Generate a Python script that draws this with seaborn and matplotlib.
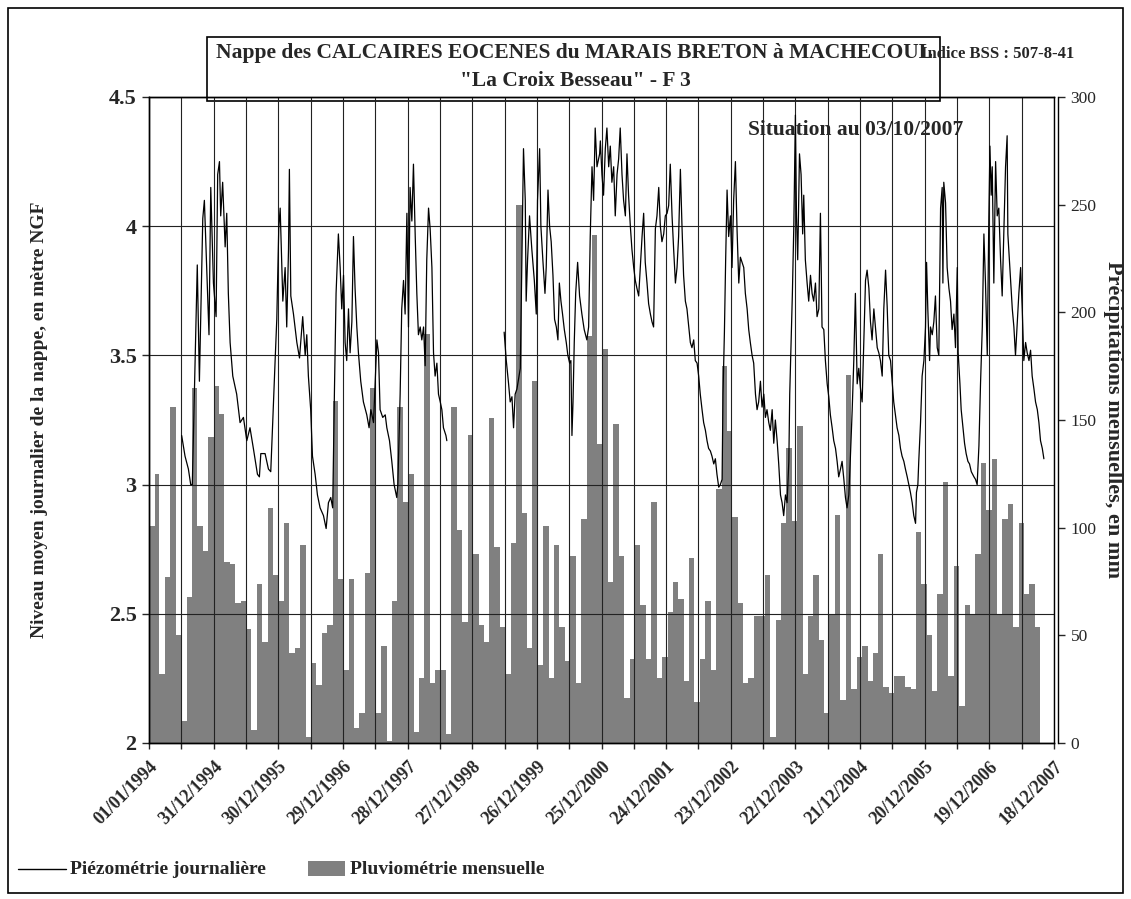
import numpy as np
import pandas as pd
import matplotlib
matplotlib.use("Agg")
import matplotlib.pyplot as plt
import matplotlib.dates as mdates
import matplotlib.transforms as mtransforms
from matplotlib.lines import Line2D
from matplotlib.patches import Rectangle
import seaborn as sns

W, H = 1131, 899
START = pd.Timestamp("1994-01-01")

# pluviométrie mensuelle (mm), janvier 1994 -> septembre 2007
RAIN_MM = [
    101, 125, 32, 77, 156, 50, 10, 68, 165, 101, 89, 142,   # 1994
    166, 153, 84, 83, 65, 66, 53, 6, 74, 47, 109, 78,       # 1995
    66, 102, 42, 44, 92, 3, 37, 27, 51, 55, 159, 76,        # 1996
    34, 76, 7, 14, 79, 165, 14, 45, 1, 66, 156, 112,        # 1997
    125, 5, 30, 190, 28, 34, 34, 4, 156, 99, 56, 143,       # 1998
    88, 55, 47, 151, 91, 54, 32, 93, 250, 107, 44, 168,     # 1999
    36, 101, 30, 92, 54, 38, 87, 28, 104, 189, 236, 139,    # 2000
    183, 75, 148, 87, 21, 39, 92, 64, 39, 112, 30, 40,      # 2001
    61, 75, 67, 29, 86, 19, 39, 66, 34, 118, 175, 145,      # 2002
    105, 65, 28, 30, 59, 59, 78, 3, 57, 102, 137, 103,      # 2003
    147, 32, 59, 78, 48, 14, 60, 106, 20, 171, 25, 40,      # 2004
    45, 29, 42, 88, 26, 23, 31, 31, 26, 25, 98, 74,         # 2005
    50, 24, 69, 121, 31, 82, 17, 64, 60, 88, 130, 108,      # 2006
    132, 60, 104, 111, 54, 102, 69, 74, 54,                 # 2007
]

# piézométrie : jours depuis le 01/01/1994 et niveau (m NGF)
PIEZO_DAYS = [
    184, 203, 222, 235, 244, 272, 284, 303, 312, 338,
    348, 363, 378, 387, 397, 404, 415, 429, 438, 447,
    457, 472, 494, 513, 532, 551, 569, 588, 611, 622,
    630, 654, 673, 686, 697, 710, 720, 731, 739, 754,
    767, 776, 786, 791, 799, 814, 833, 848, 866, 880,
    889, 898, 911, 921, 936, 949, 964, 983, 998, 1011,
    1024, 1035, 1045, 1054, 1067, 1077, 1086, 1096, 1105, 1114,
    1124, 1133, 1143, 1152, 1161, 1171, 1180, 1193, 1208, 1227,
    1240, 1250, 1265, 1274, 1284, 1293, 1302, 1317, 1331, 1340,
    1355, 1368, 1381, 1396, 1402, 1415, 1424, 1434, 1443, 1453,
    1462, 1471, 1481, 1490, 1500, 1509, 1518, 1528, 1537, 1547,
    1556, 1565, 1575, 1584, 1594, 1603, 1612, 1622, 1631, 1641,
    1650, 1659, 1673, 1678,
    2001, 2013, 2026, 2035, 2045, 2054, 2063, 2073, 2092, 2110,
    2120, 2125, 2133, 2144, 2157, 2171, 2182, 2189, 2201, 2208,
    2219, 2231, 2238, 2248, 2257, 2266, 2276, 2285, 2295, 2304,
    2312, 2321, 2330, 2340, 2351, 2360, 2370, 2377, 2383, 2389,
    2396, 2404, 2415, 2426, 2439, 2452, 2467, 2477, 2486, 2496,
    2505, 2514, 2524, 2539, 2543, 2552, 2561, 2571, 2580, 2590,
    2599, 2608, 2618, 2627, 2637, 2646, 2655, 2665, 2674, 2684,
    2693, 2702, 2712, 2721, 2731, 2740, 2749, 2759, 2768, 2778,
    2787, 2796, 2806, 2815, 2825, 2834, 2843, 2853, 2862, 2872,
    2881, 2890, 2900, 2909, 2919, 2928, 2937, 2947, 2956, 2966,
    2975, 2984, 2994, 3003, 3012, 3022, 3031, 3041, 3050, 3059,
    3069, 3078, 3088, 3097, 3106, 3116, 3125, 3135, 3144, 3153,
    3163, 3172, 3182, 3191, 3200, 3210, 3219, 3229, 3234, 3242,
    3249, 3257, 3266, 3276, 3285, 3294, 3304, 3313, 3323, 3332,
    3351, 3360, 3370, 3379, 3388, 3398, 3407, 3417, 3426, 3435,
    3445, 3454, 3464, 3473, 3482, 3492, 3501, 3511, 3520, 3529,
    3539, 3548, 3558, 3567, 3576, 3586, 3595, 3605, 3610, 3618,
    3625, 3633, 3642, 3648, 3655, 3665, 3674, 3683, 3689, 3698,
    3708, 3717, 3727, 3736, 3745, 3755, 3764, 3774, 3783, 3792,
    3802, 3811, 3821, 3830, 3839, 3849, 3858, 3868, 3877, 3886,
    3896, 3905, 3915, 3924, 3933, 3943, 3952, 3962, 3971, 3980,
    3990, 3999, 4009, 4018, 4027, 4037, 4046, 4056, 4065, 4074,
    4084, 4093, 4103, 4112, 4121, 4131, 4140, 4150, 4159, 4168,
    4178, 4196, 4215, 4225, 4234, 4243, 4253, 4262, 4272, 4281,
    4290, 4300, 4309, 4319, 4324, 4332, 4337, 4347, 4356, 4366,
    4375, 4381, 4388, 4398, 4403, 4413, 4422, 4431, 4441, 4450,
    4460, 4469, 4473, 4478, 4488, 4497, 4507, 4516, 4525, 4535,
    4544, 4554, 4559, 4569, 4576, 4586, 4595, 4604, 4614, 4623,
    4633, 4648, 4657, 4666, 4676, 4685, 4695, 4704, 4713, 4723,
    4732, 4738, 4745, 4751, 4760, 4770, 4779, 4788, 4798, 4807,
    4817, 4826, 4835, 4839, 4850, 4864, 4873, 4882, 4892, 4901,
    4911, 4920, 4929, 4939, 4948, 4958, 4967, 4976, 4986, 4995,
    5005, 5014, 5023, 5033, 5042,
]
PIEZO_LEVEL = [
    3.19, 3.11, 3.06, 3.00, 3.00, 3.85, 3.40, 4.03, 4.10, 3.58,
    4.15, 3.78, 3.65, 4.20, 4.25, 4.04, 4.17, 3.92, 4.05, 3.74,
    3.55, 3.42, 3.35, 3.24, 3.26, 3.17, 3.22, 3.14, 3.04, 3.03,
    3.12, 3.12, 3.06, 3.05, 3.24, 3.47, 3.64, 3.99, 4.07, 3.71,
    3.84, 3.61, 3.91, 4.22, 3.73, 3.66, 3.55, 3.49, 3.65, 3.50,
    3.58, 3.42, 3.29, 3.11, 3.04, 2.96, 2.91, 2.88, 2.83, 2.93,
    2.95, 2.91, 3.37, 3.74, 3.97, 3.84, 3.68, 3.81, 3.55, 3.48,
    3.68, 3.51, 3.63, 3.96, 3.76, 3.61, 3.51, 3.40, 3.32, 3.27,
    3.22, 3.29, 3.24, 3.39, 3.56, 3.51, 3.29, 3.26, 3.27, 3.22,
    3.17, 3.09, 3.00, 2.95, 3.00, 3.35, 3.68, 3.79, 3.66, 4.05,
    3.61, 4.15, 4.02, 4.24, 3.96, 3.74, 3.58, 3.61, 3.56, 3.61,
    3.46, 3.87, 4.07, 3.99, 3.84, 3.51, 3.42, 3.47, 3.35, 3.32,
    3.29, 3.22, 3.19, 3.17,
    3.59, 3.48, 3.39, 3.32, 3.34, 3.22, 3.35, 3.37, 3.45, 4.30,
    4.10, 3.71, 3.87, 4.04, 3.91, 3.79, 3.66, 4.10, 4.30, 4.00,
    3.87, 3.74, 3.84, 4.14, 4.00, 3.94, 3.81, 3.64, 3.61, 3.56,
    3.78, 3.71, 3.66, 3.60, 3.55, 3.50, 3.47, 3.48, 3.19, 3.32,
    3.55, 3.74, 3.86, 3.73, 3.66, 3.60, 3.56, 3.61, 3.96, 4.23,
    4.10, 4.38, 4.23, 4.28, 4.33, 4.20, 4.12, 4.30, 4.38, 4.23,
    4.31, 4.17, 4.23, 4.04, 4.20, 4.26, 4.38, 4.20, 4.10, 4.04,
    4.28, 4.12, 4.00, 3.91, 3.84, 3.79, 3.76, 3.73, 3.84, 3.96,
    4.05, 3.86, 3.78, 3.70, 3.66, 3.63, 3.61, 3.99, 4.04, 4.15,
    4.00, 3.94, 3.97, 4.04, 4.05, 4.08, 4.24, 4.04, 3.91, 3.78,
    3.84, 3.96, 4.22, 4.00, 3.81, 3.71, 3.68, 3.61, 3.55, 3.53,
    3.56, 3.48, 3.47, 3.42, 3.35, 3.29, 3.24, 3.21, 3.17, 3.14,
    3.13, 3.11, 3.08, 3.10, 3.04, 2.99, 3.00, 3.02, 3.35, 3.59,
    3.87, 4.14, 3.96, 4.04, 3.84, 4.10, 4.25, 3.99, 3.78, 3.88,
    3.84, 3.74, 3.68, 3.60, 3.55, 3.50, 3.47, 3.35, 3.29, 3.32,
    3.40, 3.30, 3.35, 3.26, 3.29, 3.24, 3.21, 3.29, 3.16, 3.25,
    3.17, 3.08, 2.96, 2.93, 2.88, 2.96, 2.93, 3.09, 3.35, 3.55,
    3.74, 4.00, 4.43, 4.04, 3.87, 4.28, 4.20, 3.97, 4.12, 3.87,
    3.78, 3.71, 3.81, 3.74, 3.71, 3.78, 3.65, 3.68, 4.05, 3.61,
    3.60, 3.48, 3.39, 3.34, 3.27, 3.22, 3.17, 3.14, 3.09, 3.03,
    3.06, 3.09, 3.02, 2.95, 2.91, 2.96, 3.11, 3.29, 3.48, 3.74,
    3.39, 3.45, 3.37, 3.32, 3.55, 3.79, 3.83, 3.76, 3.63, 3.56,
    3.68, 3.61, 3.53, 3.51, 3.48, 3.42, 3.68, 3.83, 3.69, 3.50,
    3.48, 3.32, 3.22, 3.19, 3.14, 3.11, 3.09, 3.06, 3.03, 3.00,
    2.97, 2.93, 2.88, 2.85, 2.97, 3.00, 3.09, 3.24, 3.42, 3.48,
    3.61, 3.86, 3.68, 3.48, 3.61, 3.58, 3.63, 3.73, 3.53, 3.50,
    4.07, 4.15, 3.78, 4.17, 4.09, 3.84, 3.76, 3.71, 3.60, 3.66,
    3.53, 3.84, 3.51, 3.39, 3.29, 3.22, 3.16, 3.12, 3.09, 3.08,
    3.05, 3.03, 3.02, 3.00, 3.15, 3.39, 3.61, 3.97, 3.78, 3.50,
    4.04, 4.31, 4.12, 4.23, 3.78, 4.25, 4.04, 4.07, 3.87, 3.73,
    3.99, 4.23, 4.35, 3.97, 3.84, 3.68, 3.61, 3.50, 3.63, 3.74,
    3.84, 3.68, 3.48, 3.55, 3.51, 3.48, 3.52, 3.42, 3.37, 3.32,
    3.29, 3.24, 3.17, 3.14, 3.10,
]

TICK_LABELS = [
    "01/01/1994", "31/12/1994", "30/12/1995", "29/12/1996", "28/12/1997",
    "27/12/1998", "26/12/1999", "25/12/2000", "24/12/2001", "23/12/2002",
    "22/12/2003", "21/12/2004", "20/12/2005", "19/12/2006", "18/12/2007",
]
LEVEL_TICKS = [2, 2.5, 3, 3.5, 4, 4.5]
RAIN_TICKS = [0, 50, 100, 150, 200, 250, 300]

TITLE = "Nappe des CALCAIRES EOCENES du MARAIS BRETON à MACHECOUL"
SUBTITLE = '"La Croix Besseau" - F 3'
BSS = "Indice BSS : 507-8-41"
SITUATION = "Situation au 03/10/2007"
YLABEL_LEFT = "Niveau moyen journalier de la nappe, en mètre NGF"
YLABEL_RIGHT = "Précipitations mensuelles, en mm"
LEG_LINE = "Piézométrie journalière"
LEG_BAR = "Pluviométrie mensuelle"

sns.set_style("white")
plt.rcParams["font.family"] = ["Liberation Serif", "DejaVu Serif"]


def fx(px):
    return px / W


def fy(py):
    return 1 - py / H


# données
months = pd.date_range(START, periods=len(RAIN_MM), freq="MS")
month_ends = months + pd.offsets.MonthBegin(1)
rain = pd.DataFrame({
    "t": mdates.date2num(months),
    "width": (month_ends - months).days,
    "mm": RAIN_MM,
})

days = np.array(PIEZO_DAYS)
piezo = pd.DataFrame({
    "t": mdates.date2num(START + pd.to_timedelta(days, unit="D")),
    "level": PIEZO_LEVEL,
    "seg": np.cumsum(np.r_[0, np.diff(days) > 60]),
})

fig = plt.figure(figsize=(W / 100, H / 100), dpi=100)
ax = fig.add_axes([fx(149), fy(743), fx(1054) - fx(149), fy(97) - fy(743)])
ax2 = ax.twinx()
ax.set_zorder(ax2.get_zorder() + 1)
ax.patch.set_visible(False)

# cadres (avant les ticks : set_position réinitialise les étiquettes)
for a in (ax, ax2):
    for sp in a.spines.values():
        sp.set_visible(True)
        sp.set_color("black")
        sp.set_linewidth(1)
ax2.spines["right"].set_position(("outward", 3))

ax2.bar(rain["t"], rain["mm"], width=rain["width"], align="edge",
        color="#808080", linewidth=0)
sns.lineplot(data=piezo, x="t", y="level", units="seg", estimator=None,
             color="black", linewidth=0.9, ax=ax, legend=False)

# axe des x
major = mdates.date2num(pd.to_datetime(TICK_LABELS, format="%d/%m/%Y"))
ticks = np.empty(2 * len(major) - 1)
ticks[0::2] = major
ticks[1::2] = (major[:-1] + major[1:]) / 2
labels = [""] * len(ticks)
labels[0::2] = TICK_LABELS
ax.set_xlim(major[0], major[-1])
ax.set_xticks(ticks)
ax.set_xticklabels(labels, rotation=45, ha="right", va="top",
                   rotation_mode="anchor", fontsize=13, fontweight="bold")
shift = mtransforms.ScaledTranslation(-12 / 100, 0, fig.dpi_scale_trans)
for lbl in ax.get_xticklabels():
    lbl.set_transform(lbl.get_transform() + shift)

ax.set_ylim(2, 4.5)
ax.set_yticks(LEVEL_TICKS)
ax.set_yticklabels([f"{v:g}" for v in LEVEL_TICKS], fontsize=16, fontweight="bold")
ax2.set_ylim(0, 300)
ax2.set_yticks(RAIN_TICKS)
ax2.set_yticklabels([str(v) for v in RAIN_TICKS], fontsize=12.5)

ax.set_xlabel("")
ax.set_ylabel("")
ax.tick_params(axis="x", bottom=True, direction="out", length=4, width=1, pad=7)
ax.tick_params(axis="y", left=True, direction="out", length=5, width=1, pad=4)
ax2.tick_params(axis="y", right=True, direction="out", length=5, width=1, pad=4)

ax.grid(True, axis="both", color="#222222", linewidth=0.8)
ax2.grid(False)

# textes
fig.text(fx(40), fy(420), YLABEL_LEFT, rotation=90, ha="center", va="center",
         fontsize=14, fontweight="bold")
fig.text(fx(1113), fy(420), YLABEL_RIGHT, rotation=270, ha="center", va="center",
         fontsize=16, fontweight="bold")
fig.text(fx(748), fy(130), SITUATION, ha="left", va="center",
         fontsize=15.5, fontweight="bold")

fig.add_artist(Rectangle((fx(207), fy(101)), fx(940) - fx(207), fy(37) - fy(101),
                         transform=fig.transFigure, fill=False,
                         edgecolor="black", linewidth=1.2))
fig.text(fx(575), fy(53), TITLE, ha="center", va="center",
         fontsize=15.5, fontweight="bold")
fig.text(fx(575), fy(81), SUBTITLE, ha="center", va="center",
         fontsize=15.5, fontweight="bold")
fig.text(fx(921), fy(54), BSS, ha="left", va="center",
         fontsize=12, fontweight="bold")

# légende
fig.add_artist(Line2D([fx(18), fx(66)], [fy(869), fy(869)],
                      transform=fig.transFigure, color="black", linewidth=1))
fig.text(fx(70), fy(869), LEG_LINE, ha="left", va="center",
         fontsize=14, fontweight="bold")
fig.add_artist(Rectangle((fx(308), fy(876)), fx(345) - fx(308), fy(861) - fy(876),
                         transform=fig.transFigure, facecolor="#808080",
                         edgecolor="none"))
fig.text(fx(350), fy(869), LEG_BAR, ha="left", va="center",
         fontsize=14, fontweight="bold")

# cadre général
fig.add_artist(Rectangle((fx(8), fy(893)), fx(1123) - fx(8), fy(8) - fy(893),
                         transform=fig.transFigure, fill=False,
                         edgecolor="black", linewidth=1.2))

fig.savefig("out.png", dpi=100)
